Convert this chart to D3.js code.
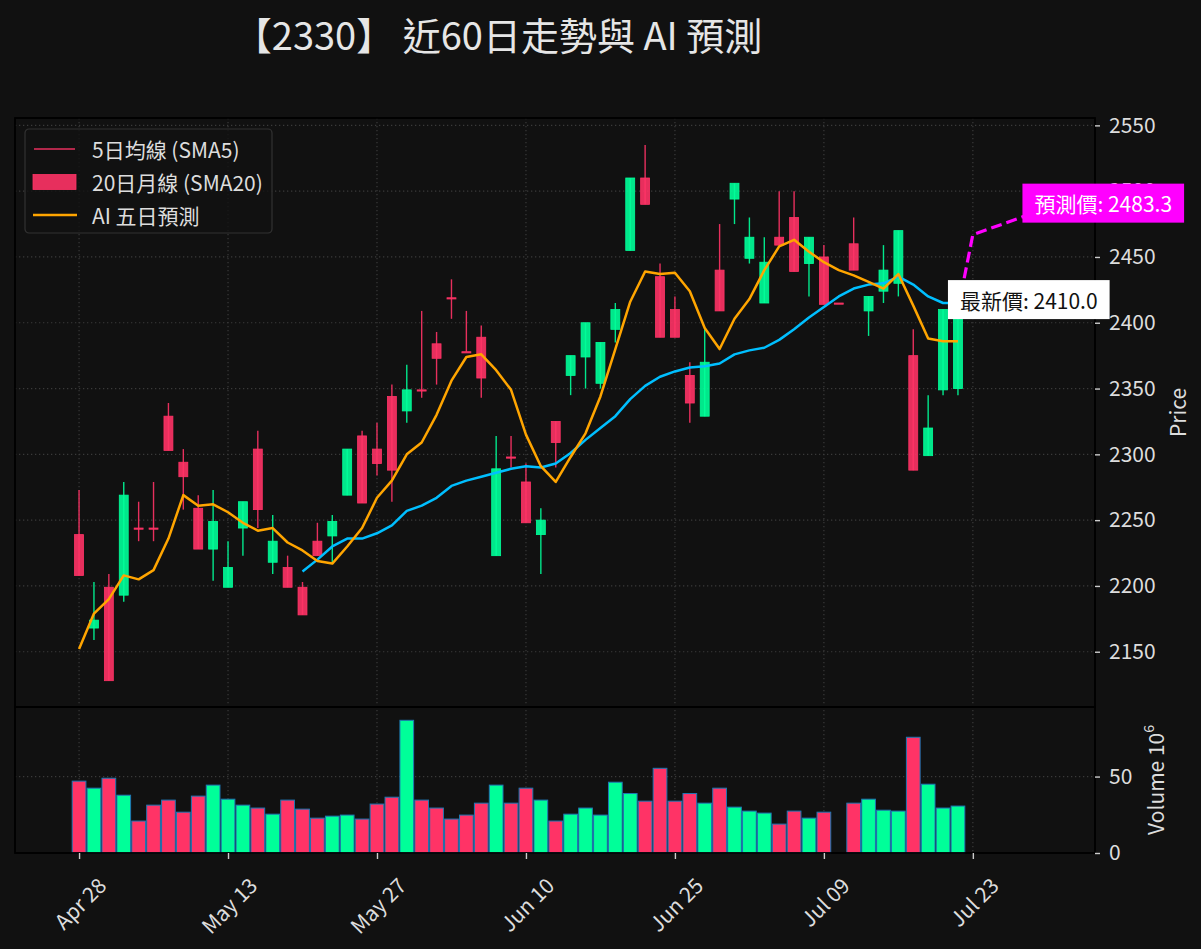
<!DOCTYPE html>
<html>
<head>
<meta charset="utf-8">
<script src="https://cdnjs.cloudflare.com/ajax/libs/d3/7.8.5/d3.min.js"></script>
<style>
  html, body { margin: 0; padding: 0; background: #111111; }
  svg { display: block; }
  text { font-family: "Noto Sans CJK TC", "Noto Sans", sans-serif; }
</style>
</head>
<body>
<div id="chart"></div>
<script>
'use strict';

// ---- data ----
var tickLabels = ['Apr 28', 'May 13', 'May 27', 'Jun 10', 'Jun 25', 'Jul 09', 'Jul 23'];

var opens  = [2239, 2168, 2199, 2193, 2244, 2244, 2329, 2294, 2259, 2228,
              2199, 2244, 2304, 2218, 2214, 2199, 2234, 2238, 2269, 2314,
              2304, 2344, 2333, 2349, 2384, 2419, 2378, 2389, 2223, 2298,
              2279, 2239, 2325, 2360, 2374, 2354, 2395, 2455, 2510, 2435,
              2410, 2360, 2329, 2440, 2494, 2449, 2415, 2465, 2480, 2445,
              2450, 2415, 2460, 2409, 2424, 2430, 2375, 2299, 2349, 2350];
var highs  = [2273, 2203, 2209, 2279, 2264, 2279, 2339, 2304, 2269, 2273,
              2234, 2264, 2318, 2254, 2223, 2203, 2248, 2254, 2304, 2318,
              2324, 2353, 2368, 2409, 2393, 2433, 2409, 2398, 2314, 2314,
              2293, 2259, 2325, 2375, 2400, 2385, 2415, 2510, 2535, 2445,
              2420, 2370, 2395, 2475, 2506, 2480, 2465, 2500, 2500, 2465,
              2459, 2415, 2480, 2420, 2459, 2470, 2395, 2345, 2410, 2410];
var lows   = [2208, 2159, 2128, 2188, 2234, 2234, 2303, 2258, 2228, 2204,
              2199, 2223, 2244, 2209, 2199, 2178, 2223, 2218, 2269, 2263,
              2284, 2264, 2324, 2343, 2353, 2403, 2378, 2343, 2223, 2290,
              2248, 2209, 2290, 2345, 2350, 2350, 2385, 2455, 2490, 2389,
              2389, 2324, 2329, 2409, 2475, 2445, 2415, 2459, 2439, 2420,
              2414, 2415, 2440, 2390, 2415, 2420, 2288, 2299, 2345, 2345];
var closes = [2208, 2174, 2128, 2269, 2244, 2244, 2303, 2283, 2228, 2249,
              2214, 2264, 2258, 2234, 2199, 2178, 2223, 2249, 2304, 2263,
              2293, 2288, 2349, 2349, 2373, 2419, 2378, 2358, 2289, 2298,
              2248, 2250, 2309, 2375, 2400, 2385, 2410, 2510, 2490, 2389,
              2389, 2339, 2370, 2409, 2506, 2465, 2446, 2459, 2439, 2465,
              2414, 2415, 2440, 2420, 2440, 2470, 2288, 2320, 2410, 2410];
// volume in millions of shares
var volumes = [47.0, 42.4, 48.9, 37.8, 20.9, 31.3, 34.6, 26.7, 37.2, 44.4,
               35.2, 31.3, 29.4, 25.4, 34.6, 28.7, 22.8, 24.1, 24.8, 22.2,
               32.0, 36.5, 86.8, 34.6, 29.4, 22.2, 24.8, 32.6, 44.4, 32.6,
               42.4, 34.6, 20.9, 25.4, 29.4, 24.8, 46.3, 38.9, 33.9, 55.4,
               33.9, 38.9, 32.6, 42.4, 30.0, 27.4, 26.1, 18.9, 27.4, 22.8,
               26.7, 0, 32.6, 35.2, 28.0, 27.4, 75.7, 45.0, 29.4, 30.7];
// orange line
var sma5 = [2152, 2179, 2190, 2208, 2205, 2212, 2236, 2269, 2261, 2262,
            2256, 2248, 2242, 2244, 2233, 2227, 2219, 2217, 2230, 2244,
            2267, 2280, 2300, 2309, 2330, 2356, 2374, 2376, 2364, 2349,
            2315, 2291, 2279, 2298, 2316, 2344, 2380, 2416, 2439, 2437,
            2438, 2424, 2396, 2380, 2403, 2418, 2440, 2458, 2463, 2454,
            2446, 2440, 2436, 2431, 2426, 2437, 2413, 2388, 2386, 2386];
// blue line, starts on the 16th day
var sma20 = [null, null, null, null, null, null, null, null, null, null,
             null, null, null, null, null, 2211, 2220, 2230, 2236, 2236,
             2240, 2246, 2257, 2261, 2267, 2276, 2280, 2283, 2286, 2289,
             2291, 2290, 2293, 2301, 2311, 2320, 2329, 2342, 2352, 2359,
             2363, 2366, 2367, 2369, 2376, 2379, 2381, 2387, 2395, 2404,
             2412, 2420, 2426, 2429, 2430, 2435, 2429, 2420, 2415, 2415];
// AI forecast for the next five trading days
var forecast = [2467, 2471, 2475, 2479, 2483.3];

var priceTicks = [2150, 2200, 2250, 2300, 2350, 2400, 2450, 2500, 2550];
var volumeTicks = [0, 50];

var legendItems = ['5日均線 (SMA5)', '20日月線 (SMA20)', 'AI 五日預測'];

// ---- layout ----
var W = 1201, H = 949;
var left = 15, right = 1095;
var mainTop = 118, mainBottom = 707, volTop = 707, volBottom = 853;

var colUp = '#00ff99', colDown = '#ff3366';
var textCol = '#dddddd';
var gridCol = '#3a3a3a';
var fs = 21;

var svg = d3.select('#chart').append('svg')
	.attr('width', W)
	.attr('height', H)
	.style('background', '#111111');

var x = d3.scaleLinear().domain([-4.3, 68.2]).range([left, right]);
var y = d3.scaleLinear().domain([2108, 2555.6]).range([mainBottom, mainTop]);
var yv = d3.scaleLinear().domain([0, 95.5]).range([volBottom, volTop]);
var step = x(1) - x(0);

var xTicks = tickLabels.map(function(d, i) { return i * 10; });

// Grid
var grid = svg.append('g').attr('class', 'grid')
	.attr('stroke', gridCol)
	.attr('stroke-width', 1.2)
	.attr('stroke-dasharray', '1.3,2.7');
grid.selectAll('line.v').data(xTicks).enter().append('line')
	.attr('x1', function(d) { return x(d); })
	.attr('x2', function(d) { return x(d); })
	.attr('y1', mainTop).attr('y2', volBottom);
grid.selectAll('line.h').data(priceTicks).enter().append('line')
	.attr('x1', left).attr('x2', right)
	.attr('y1', function(d) { return y(d); })
	.attr('y2', function(d) { return y(d); });
grid.selectAll('line.hv').data(volumeTicks.slice(1)).enter().append('line')
	.attr('x1', left).attr('x2', right)
	.attr('y1', function(d) { return yv(d); })
	.attr('y2', function(d) { return yv(d); });

// Clip for the price panel
svg.append('clipPath').attr('id', 'clipMain')
	.append('rect')
	.attr('x', left).attr('y', mainTop)
	.attr('width', right - left).attr('height', mainBottom - mainTop);

var main = svg.append('g').attr('clip-path', 'url(#clipMain)');

var idx = d3.range(opens.length);
function isUp(i) { return closes[i] > opens[i]; }

// Candles
var candles = main.append('g').attr('class', 'candles');
candles.selectAll('line').data(idx).enter().append('line')
	.attr('x1', function(i) { return x(i); })
	.attr('x2', function(i) { return x(i); })
	.attr('y1', function(i) { return y(highs[i]); })
	.attr('y2', function(i) { return y(lows[i]); })
	.attr('stroke', function(i) { return isUp(i) ? colUp : colDown; })
	.attr('stroke-opacity', 0.9)
	.attr('stroke-width', 1.4);
var bodyW = step * 0.6;
candles.selectAll('rect').data(idx).enter().append('rect')
	.attr('x', function(i) { return x(i) - bodyW / 2; })
	.attr('y', function(i) { return y(Math.max(opens[i], closes[i])); })
	.attr('width', bodyW)
	.attr('height', function(i) {
		return Math.max(Math.abs(y(opens[i]) - y(closes[i])), 1.2);
	})
	.attr('fill', function(i) { return isUp(i) ? colUp : colDown; })
	.attr('fill-opacity', 0.9)
	.attr('stroke', function(i) { return isUp(i) ? colUp : colDown; })
	.attr('stroke-width', 0.8);

// Moving averages
var line = d3.line()
	.defined(function(d) { return d[1] !== null; })
	.x(function(d) { return x(d[0]); })
	.y(function(d) { return y(d[1]); });

main.append('path')
	.datum(sma20.map(function(v, i) { return [i, v]; }))
	.attr('d', line)
	.attr('fill', 'none')
	.attr('stroke', '#00bfff')
	.attr('stroke-width', 2.5)
	.attr('stroke-linejoin', 'round');

main.append('path')
	.datum(sma5.map(function(v, i) { return [i, v]; }))
	.attr('d', line)
	.attr('fill', 'none')
	.attr('stroke', '#ffa500')
	.attr('stroke-width', 2.5)
	.attr('stroke-linejoin', 'round');

// Forecast (dashed), from the latest close
var last = closes.length - 1;
var fcPts = [[last, closes[last]]].concat(forecast.map(function(v, k) { return [last + 1 + k, v]; }));
main.append('path')
	.datum(fcPts)
	.attr('d', line)
	.attr('fill', 'none')
	.attr('stroke', '#ff00ff')
	.attr('stroke-width', 3.2)
	.attr('stroke-dasharray', '11,5')
	.attr('stroke-linejoin', 'round');

// Volume bars
var volW = step * 0.92;
svg.append('g').attr('class', 'volume')
	.selectAll('rect').data(idx.filter(function(i) { return volumes[i] > 0; })).enter().append('rect')
	.attr('x', function(i) { return x(i) - volW / 2; })
	.attr('y', function(i) { return yv(volumes[i]); })
	.attr('width', volW)
	.attr('height', function(i) { return yv(0) - yv(volumes[i]); })
	.attr('fill', function(i) { return isUp(i) ? colUp : colDown; })
	.attr('stroke', '#1f77b4')
	.attr('stroke-width', 1);

// Spines
var spines = svg.append('g').attr('fill', 'none').attr('stroke', '#000').attr('stroke-width', 1.8);
spines.append('rect').attr('x', left).attr('y', mainTop).attr('width', right - left).attr('height', mainBottom - mainTop);
spines.append('rect').attr('x', left).attr('y', volTop).attr('width', right - left).attr('height', volBottom - volTop);

// Axes
function styleAxis(g) {
	g.select('.domain').remove();
	g.selectAll('.tick line').attr('stroke', '#cccccc').attr('stroke-width', 1.4);
	g.selectAll('.tick text').attr('fill', textCol).style('font-size', fs + 'px')
		.style('font-family', '"Noto Sans CJK TC", "Noto Sans", sans-serif');
}

svg.append('g')
	.attr('transform', 'translate(' + right + ',0)')
	.call(d3.axisRight(y).tickValues(priceTicks).tickSize(5).tickPadding(9).tickFormat(d3.format('d')))
	.call(styleAxis);

svg.append('g')
	.attr('transform', 'translate(' + right + ',0)')
	.call(d3.axisRight(yv).tickValues(volumeTicks).tickSize(5).tickPadding(9).tickFormat(d3.format('d')))
	.call(styleAxis);

var xAxis = svg.append('g')
	.attr('transform', 'translate(0,' + volBottom + ')')
	.call(d3.axisBottom(x).tickValues(xTicks).tickSize(6)
		.tickFormat(function(d) { return tickLabels[d / 10]; }))
	.call(styleAxis);
xAxis.selectAll('.tick text')
	.attr('y', 0).attr('dy', null)
	.attr('text-anchor', 'middle')
	.attr('dominant-baseline', 'central')
	.attr('transform', function() {
		var w = this.getComputedTextLength();
		var half = (w + 0.8 * fs) / (2 * Math.SQRT2);
		return 'translate(0,' + (22 + half) + ') rotate(-45)';
	});

// Axis labels
svg.append('text')
	.attr('transform', 'translate(1177,' + ((mainTop + mainBottom) / 2) + ') rotate(-90)')
	.attr('text-anchor', 'middle')
	.attr('dominant-baseline', 'central')
	.attr('fill', textCol)
	.style('font-size', fs + 'px')
	.text('Price');

var vLabel = svg.append('text')
	.attr('transform', 'translate(1155,' + ((volTop + volBottom) / 2) + ') rotate(-90)')
	.attr('text-anchor', 'middle')
	.attr('dominant-baseline', 'central')
	.attr('fill', textCol)
	.style('font-size', fs + 'px');
vLabel.append('tspan').text('Volume 10');
vLabel.append('tspan').attr('dy', '-0.5em').style('font-size', '14px').text('6');

// Title
svg.append('text')
	.attr('x', 498).attr('y', 50)
	.attr('text-anchor', 'middle')
	.attr('fill', '#e6e6e6')
	.style('font-size', '38px')
	.text('【2330】 近60日走勢與 AI 預測');

// Price tags
function tag(i, v, label, bg, fg) {
	var g = svg.append('g');
	var t = g.append('text')
		.attr('fill', fg)
		.style('font-size', fs + 'px')
		.attr('dominant-baseline', 'central')
		.text(label);
	var w = t.node().getComputedTextLength();
	var pad = 12;
	var bx = x(i) - 10, by = y(v) - 10;
	g.insert('rect', 'text')
		.attr('x', bx).attr('y', by - 19.5)
		.attr('width', w + pad * 2).attr('height', 39)
		.attr('fill', bg);
	t.attr('x', bx + pad).attr('y', by);
}
tag(last, closes[last], '最新價: ' + closes[last].toFixed(1), '#ffffff', '#111111');
tag(last + forecast.length, forecast[forecast.length - 1],
	'預測價: ' + forecast[forecast.length - 1].toFixed(1), '#ff00ff', '#ffffff');

// Legend
var lg = svg.append('g').attr('transform', 'translate(25,129)');
lg.append('rect')
	.attr('width', 247).attr('height', 104).attr('rx', 4)
	.attr('fill', '#111111').attr('fill-opacity', 0.8)
	.attr('stroke', '#333333').attr('stroke-width', 1.2);
var rowY = [20, 53, 86];
lg.append('line').attr('x1', 9).attr('x2', 50).attr('y1', rowY[0]).attr('y2', rowY[0])
	.attr('stroke', colDown).attr('stroke-opacity', 0.9).attr('stroke-width', 1.4);
lg.append('rect').attr('x', 8).attr('y', rowY[1] - 7.5).attr('width', 43).attr('height', 15)
	.attr('fill', colDown).attr('fill-opacity', 0.9).attr('stroke', colDown).attr('stroke-width', 0.8);
lg.append('line').attr('x1', 8).attr('x2', 52).attr('y1', rowY[2]).attr('y2', rowY[2])
	.attr('stroke', '#ffa500').attr('stroke-width', 2.5);
lg.selectAll('text.item').data(legendItems).enter().append('text')
	.attr('x', 67)
	.attr('y', function(d, i) { return rowY[i]; })
	.attr('dominant-baseline', 'central')
	.attr('fill', textCol)
	.style('font-size', fs + 'px')
	.text(function(d) { return d; });
</script>
</body>
</html>
